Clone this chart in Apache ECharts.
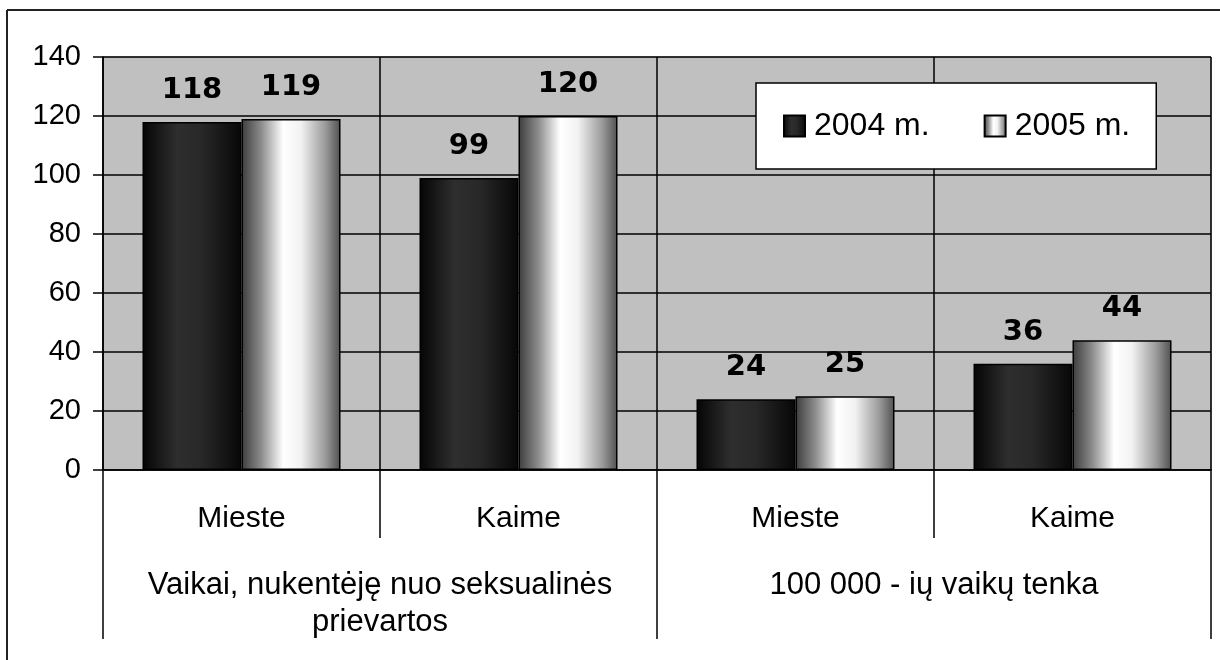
<!DOCTYPE html>
<html>
<head>
<meta charset="utf-8">
<script src="https://cdn.jsdelivr.net/npm/echarts@6/dist/echarts.min.js"></script>
<style>
    html, body { margin: 0; padding: 0; background: #fff; }
    #chart { width: 1220px; height: 660px; }
</style>
</head>
<body>
<div id="chart"></div>
<script>

var categories = ['Mieste', 'Kaime', 'Mieste', 'Kaime'];
var groups = ['Vaikai, nukentėję nuo seksualinės\nprievartos', '100 000 - ių vaikų tenka'];
var seriesNames = ['2004 m.', '2005 m.'];
var values2004 = [118, 99, 24, 36];
var values2005 = [119, 120, 25, 44];
var yTicks = [0, 140, 20]; // min, max, step

var FONT = '"Liberation Sans", Arial, sans-serif';

// horizontal gradients, like the old excel "cylinder" fill
var darkFill = new echarts.graphic.LinearGradient(0, 0, 1, 0, [
    { offset: 0, color: '#050505' },
    { offset: 0.35, color: '#2e2e2e' },
    { offset: 0.6, color: '#282828' },
    { offset: 1, color: '#070707' }
]);
var lightFill = new echarts.graphic.LinearGradient(0, 0, 1, 0, [
    { offset: 0, color: '#3c3c3c' },
    { offset: 0.2, color: '#8c8c8c' },
    { offset: 0.42, color: '#ffffff' },
    { offset: 0.6, color: '#f2f2f2' },
    { offset: 0.85, color: '#999999' },
    { offset: 1, color: '#505050' }
]);

var labelStyle = {
    show: true,
    position: 'top',
    distance: 17,
    color: '#000',
    fontFamily: '"DejaVu Sans", Verdana, sans-serif',
    fontWeight: 'bold',
    fontSize: 29
};

var chart = echarts.init(document.getElementById('chart'));
chart.setOption({
    animation: false,
    backgroundColor: '#fff',
    grid: {
        left: 103,
        right: 9,
        top: 57,
        bottom: 190,
        show: true,
        backgroundColor: '#c0c0c0',
        borderColor: '#8c8c8c',
        borderWidth: 1
    },
    legend: {
        left: 756,
        top: 83,
        orient: 'horizontal',
        data: seriesNames,
        backgroundColor: '#fff',
        borderColor: '#000',
        borderWidth: 1.5,
        padding: [27, 26, 27, 27],
        itemGap: 54,
        itemWidth: 21,
        itemHeight: 21,
        icon: 'rect',
        textStyle: {
            fontFamily: FONT,
            fontSize: 32,
            color: '#000',
            padding: [0, 0, 0, 4]
        }
    },
    xAxis: [
        {
            type: 'category',
            data: categories,
            position: 'bottom',
            axisLine: { show: true, lineStyle: { color: '#000', width: 1.5 } },
            axisTick: { show: true, length: 68, lineStyle: { color: '#000', width: 1.5 } },
            axisLabel: {
                interval: 0,
                margin: 34,
                fontFamily: FONT,
                fontSize: 30,
                color: '#000'
            },
            splitLine: {
                show: true,
                // keep the right edge grey like the plot border
                interval: function (index) { return index < categories.length; },
                lineStyle: { color: '#000', width: 1.5 }
            }
        },
        {
            type: 'category',
            data: groups,
            position: 'bottom',
            axisLine: { show: false },
            axisTick: { show: true, length: 169, lineStyle: { color: '#000', width: 1.5 } },
            axisLabel: {
                interval: 0,
                margin: 97,
                fontFamily: FONT,
                fontSize: 31,
                lineHeight: 37,
                color: '#000'
            },
            splitLine: { show: false }
        }
    ],
    yAxis: {
        type: 'value',
        min: yTicks[0],
        max: yTicks[1],
        interval: yTicks[2],
        axisLine: { show: true, lineStyle: { color: '#000', width: 1.5 } },
        axisTick: { show: true, length: 10, lineStyle: { color: '#000', width: 1.5 } },
        axisLabel: {
            margin: 22,
            fontFamily: FONT,
            fontSize: 29,
            color: '#000'
        },
        splitLine: { show: true, lineStyle: { color: '#000', width: 1.5 } }
    },
    series: [
        {
            name: seriesNames[0],
            type: 'bar',
            xAxisIndex: 0,
            data: values2004,
            barWidth: 99,
            barGap: '0%',
            itemStyle: { color: darkFill, borderColor: '#000', borderWidth: 1.5 },
            label: labelStyle
        },
        {
            name: seriesNames[1],
            type: 'bar',
            xAxisIndex: 0,
            data: values2005,
            barWidth: 99,
            barGap: '0%',
            itemStyle: { color: lightFill, borderColor: '#000', borderWidth: 1.5 },
            label: labelStyle
        }
    ],
    // outer frame of the picture (only top and left edges are visible)
    graphic: [
        { type: 'line', shape: { x1: 7, y1: 10, x2: 1220, y2: 10 }, style: { stroke: '#222', lineWidth: 2 }, z: 100 },
        { type: 'line', shape: { x1: 7, y1: 10, x2: 7, y2: 660 }, style: { stroke: '#222', lineWidth: 2 }, z: 100 }
    ]
});
</script>
</body>
</html>
